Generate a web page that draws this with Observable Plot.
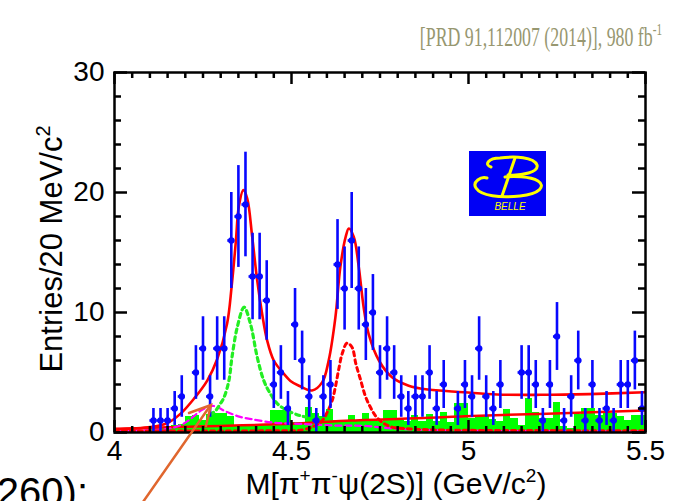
<!DOCTYPE html>
<html>
<head>
<meta charset="utf-8">
<script src="https://cdn.jsdelivr.net/npm/d3@7"></script>
<script src="https://cdn.jsdelivr.net/npm/@observablehq/plot@0.6"></script>
<style>
  html, body { margin: 0; padding: 0; background: #fff; }
  #chart { position: relative; width: 677px; height: 501px; overflow: hidden; }
</style>
</head>
<body>
<div id="chart"></div>
<script>
// Bin centres (GeV/c^2), 20 MeV bins
const mass = [4.01,4.03,4.05,4.07,4.09,4.11,4.13,4.15,4.17,4.19,4.21,4.23,4.25,4.27,4.29,4.31,4.33,4.35,4.37,4.39,
  4.41,4.43,4.45,4.47,4.49,4.51,4.53,4.55,4.57,4.59,4.61,4.63,4.65,4.67,4.69,4.71,4.73,4.75,4.77,4.79,
  4.81,4.83,4.85,4.87,4.89,4.91,4.93,4.95,4.97,4.99,5.01,5.03,5.05,5.07,5.09,5.11,5.13,5.15,5.17,5.19,
  5.21,5.23,5.25,5.27,5.29,5.31,5.33,5.35,5.37,5.39,5.41,5.43,5.45,5.47,5.49];

// Signal-region entries per bin
const entries = [0,0,0,0,0,1,1,1,2,3,0,5,7,3,7,7,16,18,19,13,
  13,11,4,5,2,9,6,3,1,3,4,14,12,16,12,9,10,5,7,5,
  3,2,3,3,5,2,4,0,2,4,3,7,3,2,4,0,0,5,5,4,
  1,4,8,1,3,6,1,4,1,2,1,4,4,6,2];

// Scaled sideband background per bin (green histogram)
const sideband = [0,0,0,0,0,0.3,0.3,0.4,0.6,0.7,1.3,1.4,1.0,1.5,1.6,1.6,1.3,0.6,0.7,0.5,
  0.6,0.6,1.8,1.8,1.8,0.8,0.8,2.1,1.6,1.3,1.9,1.0,1.0,1.4,1.0,1.6,1.0,0.9,1.8,1.8,
  1.0,0.9,1.4,0.9,1.5,0.9,1.7,0.8,2.4,2.4,1.2,1.4,1.4,1.1,0.9,1.9,1.2,0.6,2.8,1.7,
  1.2,1.2,2.5,0.5,0.3,1.5,2.0,2.0,1.4,1.6,1.6,1.3,1.0,1.4,1.4];

// Fit curves: [mass, entries]
const fitTotal = [[4.0,0.3],[4.102,0.45],[4.149,0.78],[4.186,1.55],[4.224,2.8],[4.262,4.33],[4.29,6.1],[4.318,9.06],
  [4.331,12.2],[4.343,16.0],[4.351,18.8],[4.364,20.2],[4.375,19.5],[4.389,16.3],[4.403,12.7],[4.417,9.9],
  [4.431,7.7],[4.45,6.0],[4.478,4.9],[4.497,4.3],[4.521,3.9],[4.558,3.5],[4.587,4.2],[4.605,6.0],[4.624,9.6],
  [4.638,13.8],[4.653,16.3],[4.662,17.0],[4.676,16.3],[4.69,13.8],[4.704,10.4],[4.718,8.2],[4.747,6.0],
  [4.784,4.6],[4.831,3.9],[4.879,3.6],[4.987,3.36],[5.081,3.17],[5.203,3.14],[5.34,3.2],[5.5,3.36]];

const fitBackground = [[4.0,0.28],[4.2,0.48],[4.5,0.72],[4.67,1.0],[4.89,1.22],[4.99,1.36],[5.2,1.55],[5.5,1.83]];

const fitY4360 = [[4.27,1.5],[4.285,1.8],[4.299,2.4],[4.309,2.9],[4.323,4.3],[4.332,6.3],[4.347,8.8],[4.366,10.44],
  [4.384,9.06],[4.403,6.3],[4.422,4.3],[4.441,3.2],[4.46,2.4],[4.488,1.83],[4.525,1.4],[4.54,1.3]];

const fitY4660 = [[4.0,0.12],[4.3,0.13],[4.5,0.15],[4.521,0.17],[4.558,0.45],[4.587,1.0],[4.601,1.7],[4.615,2.67],
  [4.624,3.8],[4.633,5.2],[4.643,6.55],[4.657,7.45],[4.671,7.1],[4.682,5.7],[4.695,4.4],[4.709,3.0],
  [4.723,2.1],[4.737,1.4],[4.756,0.86],[4.784,0.45],[4.822,0.33],[4.9,0.22],[5.2,0.16],[5.5,0.15]];

const fitY4260 = [[4.0,0.1],[4.074,0.17],[4.149,0.3],[4.186,0.6],[4.21,1.02],[4.243,1.8],[4.276,2.22],[4.318,1.7],
  [4.355,1.3],[4.386,1.12],[4.45,0.82],[4.523,0.72],[4.619,0.58],[4.705,0.55],[4.8,0.3],[5.0,0.15],[5.5,0.1]];

// Axis ticks and labels
const xMajor = [4, 4.5, 5, 5.5];
const xTickLabels = ["4", "4.5", "5", "5.5"];
const xMinor = [4.05,4.1,4.15,4.2,4.25,4.3,4.35,4.4,4.45,4.55,4.6,4.65,4.7,4.75,4.8,4.85,4.9,4.95,
  5.05,5.1,5.15,5.2,5.25,5.3,5.35,5.4,5.45];
const yMajor = [0, 10, 20, 30];
const yTickLabels = ["0", "10", "20", "30"];
const yMinor = [2,4,6,8,12,14,16,18,22,24,26,28];

const bins = mass.map((m, i) => ({m, n: entries[i], g: sideband[i]}));
const points = bins.filter(d => d.n > 0);

const W = 677, H = 501;
const mL = 114, mR = 32, mT = 72, mB = 69;
const frameW = W - mL - mR, frameH = H - mT - mB;
const blue = "#0808ff";
const sans = "'Liberation Sans', Arial, Helvetica, sans-serif";

const plot = Plot.plot({
  width: W, height: H,
  marginLeft: mL, marginRight: mR, marginTop: mT, marginBottom: mB,
  style: {fontFamily: sans, background: "#fff", color: "#000", overflow: "visible"},
  x: {domain: [4, 5.5]},
  y: {domain: [0, 30]},
  marks: [
    // sideband histogram
    Plot.rectY(bins, {x1: d => d.m - 0.01, x2: d => d.m + 0.01, y: "g", fill: "#00ff00", shapeRendering: "crispEdges"}),
    // fit components
    Plot.line(fitBackground, {x: d => d[0], y: d => d[1], stroke: "#ff0000", strokeWidth: 2.5, curve: "catmull-rom", clip: true}),
    Plot.line(fitY4260, {x: d => d[0], y: d => d[1], stroke: "#ff00ff", strokeWidth: 2.2, strokeDasharray: "6,4", curve: "catmull-rom", clip: true}),
    Plot.line(fitY4660, {x: d => d[0], y: d => d[1], stroke: "#ff0000", strokeWidth: 3, strokeDasharray: "4,4", curve: "catmull-rom", clip: true}),
    Plot.line(fitY4360, {x: d => d[0], y: d => d[1], stroke: "#22ee22", strokeWidth: 3.2, strokeDasharray: "4,4", curve: "catmull-rom", clip: true}),
    Plot.line(fitTotal, {x: d => d[0], y: d => d[1], stroke: "#ff0000", strokeWidth: 2.6, curve: "catmull-rom", clip: true}),
    // data with statistical errors
    Plot.ruleX(points, {x: "m", y1: d => Math.max(0, d.n - Math.sqrt(d.n)), y2: d => d.n + Math.sqrt(d.n), stroke: blue, strokeWidth: 2.6}),
    Plot.ruleY(points, {y: "n", x1: d => d.m - 0.01, x2: d => d.m + 0.01, stroke: blue, strokeWidth: 2.6}),
    Plot.dot(points, {x: "m", y: "n", r: 3.2, fill: blue}),
    // inward ticks on all four sides
    Plot.tickX(xMajor, {x: d => d, insetTop: frameH - 12, stroke: "#000", strokeWidth: 2.5}),
    Plot.tickX(xMinor, {x: d => d, insetTop: frameH - 6, stroke: "#000", strokeWidth: 2.5}),
    Plot.tickX(xMajor, {x: d => d, insetBottom: frameH - 12, stroke: "#000", strokeWidth: 2.5}),
    Plot.tickX(xMinor, {x: d => d, insetBottom: frameH - 6, stroke: "#000", strokeWidth: 2.5}),
    Plot.tickY(yMajor, {y: d => d, insetRight: frameW - 13, stroke: "#000", strokeWidth: 2.5}),
    Plot.tickY(yMinor, {y: d => d, insetRight: frameW - 7, stroke: "#000", strokeWidth: 2.5}),
    Plot.tickY(yMajor, {y: d => d, insetLeft: frameW - 13, stroke: "#000", strokeWidth: 2.5}),
    Plot.tickY(yMinor, {y: d => d, insetLeft: frameW - 7, stroke: "#000", strokeWidth: 2.5}),
    Plot.frame({stroke: "#000", strokeWidth: 2.5}),
    Plot.axisX(xMajor, {anchor: "bottom", tickSize: 0, tickPadding: 8, fontSize: 28,
      tickFormat: d => xTickLabels[xMajor.indexOf(d)], label: null}),
    Plot.axisY(yMajor, {anchor: "left", tickSize: 0, tickPadding: 10, fontSize: 28,
      tickFormat: d => yTickLabels[yMajor.indexOf(d)], label: null})
  ]
});

document.getElementById("chart").appendChild(plot);
const svg = d3.select(plot);

// axis titles with superscripts
const xt = svg.append("text").attr("x", 396).attr("y", 494).attr("text-anchor", "middle")
  .style("font-family", sans).style("font-size", "30px").attr("fill", "#000");
xt.append("tspan").text("M[π");
xt.append("tspan").attr("dy", -12).style("font-size", "19px").text("+");
xt.append("tspan").attr("dy", 12).text("π");
xt.append("tspan").attr("dy", -12).style("font-size", "19px").text("-");
xt.append("tspan").attr("dy", 12).text("ψ(2S)] (GeV/c");
xt.append("tspan").attr("dy", -12).style("font-size", "19px").text("2");
xt.append("tspan").attr("dy", 12).text(")");

const yt = svg.append("text").attr("transform", "translate(62,249) rotate(-90)").attr("text-anchor", "middle")
  .style("font-family", sans).style("font-size", "31px").attr("fill", "#000");
yt.append("tspan").text("Entries/20 MeV/c");
yt.append("tspan").attr("dy", -12).style("font-size", "20px").text("2");

// publication reference (condensed serif)
const ref = svg.append("text").attr("transform", "translate(662,46) scale(0.66,1)").attr("text-anchor", "end")
  .style("font-family", "'Liberation Serif', 'Times New Roman', serif").style("font-size", "27px").attr("fill", "#979770");
ref.append("tspan").text("[PRD 91,112007 (2014)], 980 fb");
ref.append("tspan").attr("dy", -11).style("font-size", "17px").text("-1");

// resonance annotation
svg.append("text").attr("x", 88).attr("y", 506).attr("text-anchor", "end")
  .style("font-family", sans).style("font-size", "40px").attr("fill", "#000").text("Y(4260):");

const arrow = svg.append("g").attr("stroke", "#e0662e").attr("stroke-width", 2.5).attr("fill", "none").attr("stroke-linecap", "round");
arrow.append("path").attr("d", "M136,512 L210,406");
arrow.append("path").attr("d", "M189,413 L211,405 L206,426");

// Belle logo
const logo = svg.append("g");
logo.append("rect").attr("x", 469).attr("y", 151).attr("width", 77).attr("height", 65).attr("fill", "#0000f5");
const ly = logo.append("g").attr("stroke", "#ffff00").attr("stroke-width", 3).attr("fill", "none").attr("stroke-linecap", "round");
ly.append("path").attr("d", "M491,167 C484,165 488,158 500,158 C515,156 534,157 537,165 C539,172 522,176 508,175");
ly.append("path").attr("d", "M487,178 C481,176 472,182 476,188 C481,196 500,198 520,196 C540,194 546,186 538,181 C530,176 512,176 505,177");
ly.append("path").attr("d", "M515,158 L502,196");
logo.append("text").attr("x", 510).attr("y", 210).attr("text-anchor", "middle")
  .style("font-family", sans).style("font-size", "10px").style("font-style", "italic").attr("fill", "#ffff00").text("BELLE");
</script>
</body>
</html>
